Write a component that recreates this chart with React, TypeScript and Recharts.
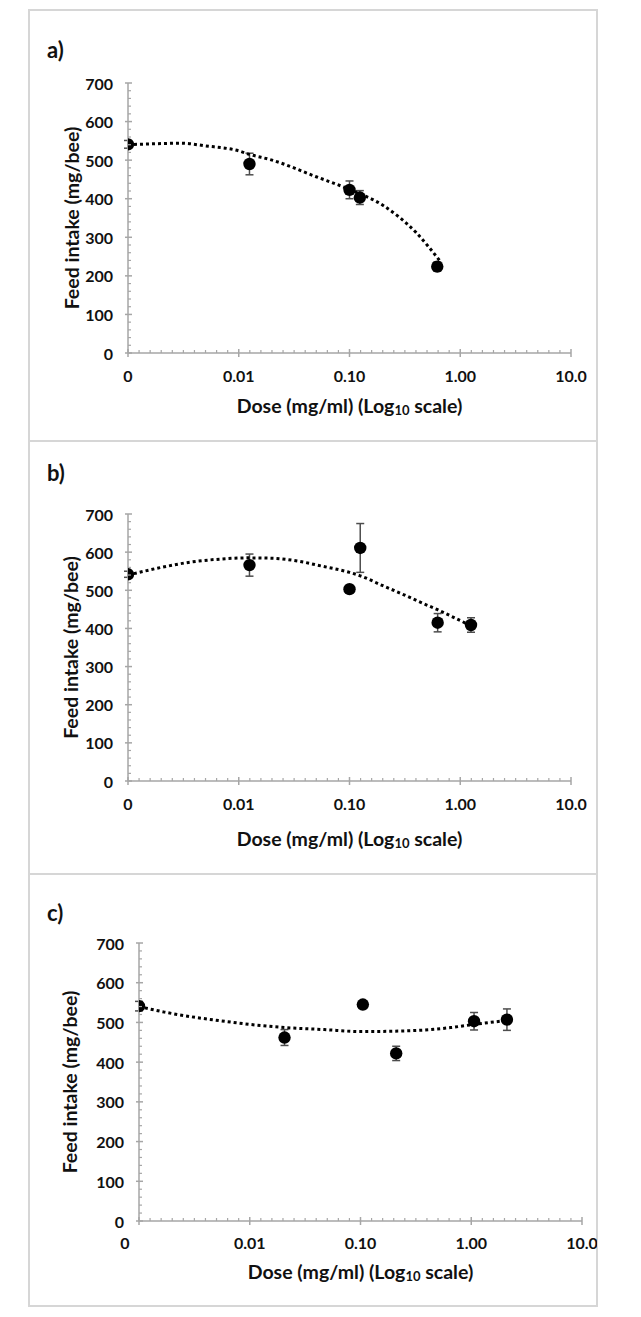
import { ScatterChart, Scatter, XAxis, YAxis, ErrorBar } from 'recharts'

// x axis: log10 dose, Excel-style labels ("0" stands at 0.001)
const X_MAJOR = [0.001, 0.01, 0.1, 1, 10]
const X_LABELS = ['0', '0.01', '0.10', '1.00', '10.0']
const Y_MAJOR = [0, 100, 200, 300, 400, 500, 600, 700]

// panel a
const A_DOSE = [0.001, 0.0125, 0.1, 0.124, 0.62]
const A_MEAN = [541, 490, 423, 403, 224]
const A_ERR = [10, 28, 23, 18, 12]
const A_FIT_X = [0.001, 0.002, 0.003, 0.005, 0.01, 0.0125, 0.02, 0.05, 0.1, 0.2, 0.4, 0.65]
const A_FIT_Y = [540, 543, 544, 537, 524, 515, 500, 457, 424, 383, 312, 240]

// panel b
const B_DOSE = [0.001, 0.0125, 0.1, 0.125, 0.625, 1.25]
const B_MEAN = [542, 566, 503, 611, 415, 409]
const B_ERR = [8, 29, 4, 64, 24, 19]
const B_FIT_X = [0.001, 0.002, 0.0035, 0.007, 0.012, 0.02, 0.035, 0.055, 0.1, 0.125, 0.2, 0.3, 0.45, 0.625, 0.9, 1.25]
const B_FIT_Y = [540, 560, 573, 582, 585, 584, 576, 564, 547, 538, 512, 490, 467, 449, 427, 407]

// panel c
const C_DOSE = [0.001, 0.0206, 0.105, 0.21, 1.06, 2.1]
const C_MEAN = [541, 462, 545, 422, 503, 507]
const C_ERR = [12, 20, 4, 18, 22, 27]
const C_FIT_X = [0.001, 0.0017, 0.003, 0.0055, 0.01, 0.021, 0.047, 0.1, 0.2, 0.43, 0.65, 1.06, 2.1]
const C_FIT_Y = [540, 526, 514, 504, 495, 487, 482, 477, 478, 482, 487, 495, 505]

const AXIS = '#a6a6a6'
const FONT = 'Lato, "Open Sans", sans-serif'
const BOX_L = 29
const BOX_W = 568
const PLOT_W = 443

// minor ticks: 10 even steps per decade on x, every 20 on y
const xTicks = X_MAJOR.flatMap((m, i) =>
  i === X_MAJOR.length - 1 ? [m] : Array.from({ length: 10 }, (_, k) => (k === 0 ? m : m * Math.pow(10, k / 10)))
)
const yTicks = Array.from({ length: 36 }, (_, i) => i * 20)

function XTick(props: any) {
  const { x, y, payload, labelY, firstDx } = props
  const i = X_MAJOR.indexOf(payload.value)
  if (i < 0) return <line x1={x} x2={x} y1={y} y2={y - 3} stroke={AXIS} strokeWidth={1.2} />
  return (
    <g>
      <line x1={x} x2={x} y1={y - 4} y2={y + 4} stroke={AXIS} strokeWidth={1.5} />
      <text x={x + (i === 0 ? firstDx : 0)} y={y + labelY} textAnchor="middle" dominantBaseline="central"
        fontFamily={FONT} fontWeight={700} fontSize={16} fill="#111">{X_LABELS[i]}</text>
    </g>
  )
}

function YTick(props: any) {
  const { x, y, payload } = props
  const v = payload.value
  if (!Y_MAJOR.includes(v)) return <line x1={x} x2={x + 3} y1={y} y2={y} stroke={AXIS} strokeWidth={1.2} />
  return (
    <g>
      <line x1={x - 3} x2={x + 4} y1={y} y2={y} stroke={AXIS} strokeWidth={1.5} />
      <text x={x - 15} y={y} textAnchor="end" dominantBaseline="central"
        fontFamily={FONT} fontWeight={700} fontSize={16} fill="#111">{v}</text>
    </g>
  )
}

type PanelProps = {
  letter: string
  top: number
  height: number
  axisX: number
  y700: number
  y0: number
  tickY: number
  titleY: number
  titleX: number
  letterY: number
  firstDx: number
  dose: number[]
  mean: number[]
  err: number[]
  fitX: number[]
  fitY: number[]
}

function Panel(p: PanelProps) {
  const points = p.dose.map((d, i) => ({ x: d, y: p.mean[i], err: p.err[i] }))
  const fit = p.fitX.map((d, i) => ({ x: d, y: p.fitY[i] }))
  const left = p.axisX - BOX_L
  return (
    <div style={{ position: 'absolute', left: BOX_L, top: p.top, width: BOX_W, height: p.height }}>
      <div style={{ position: 'absolute', left: 18, top: p.letterY - p.top - 14, fontFamily: FONT, fontWeight: 700, fontSize: 22, color: '#111' }}>
        {p.letter}
      </div>
      <ScatterChart width={BOX_W} height={p.height}
        margin={{ top: p.y700 - p.top, left: left - 1, right: BOX_W - left - PLOT_W, bottom: p.height - (p.y0 - p.top) - 1 }}>
        <XAxis type="number" dataKey="x" scale="log" domain={[0.001, 10]} allowDataOverflow ticks={xTicks} interval={0}
          height={1} tickSize={0} tickMargin={0} tickLine={false} axisLine={{ stroke: AXIS, strokeWidth: 1.5 }}
          tick={<XTick labelY={p.tickY} firstDx={p.firstDx} />}
          label={{
            content: (lp: any) => {
              const vb = lp.viewBox || {}
              return (
                <text x={vb.x + vb.width / 2} y={vb.y + p.titleY} textAnchor="middle" dominantBaseline="central"
                  fontFamily={FONT} fontWeight={700} fontSize={19.5} fill="#111">
                  Dose (mg/ml) (Log<tspan fontSize={13} dy={5}>10</tspan><tspan dy={-5}> scale)</tspan>
                </text>
              )
            },
          }} />
        <YAxis type="number" dataKey="y" domain={[0, 700]} allowDataOverflow ticks={yTicks} interval={0}
          width={1} tickSize={0} tickMargin={0} tickLine={false} axisLine={{ stroke: AXIS, strokeWidth: 1.5 }}
          tick={<YTick />}
          label={{
            content: (lp: any) => {
              const vb = lp.viewBox || {}
              const cx = p.titleX - BOX_L
              const cy = vb.y + vb.height / 2
              return (
                <text x={cx} y={cy} transform={`rotate(-90 ${cx} ${cy})`} textAnchor="middle" dominantBaseline="central"
                  fontFamily={FONT} fontWeight={700} fontSize={19.5} fill="#111">
                  Feed intake (mg/bee)
                </text>
              )
            },
          }} />
        <Scatter data={fit} isAnimationActive={false} fill="#000" shape={() => <g />}
          line={{ stroke: '#000', strokeWidth: 3, strokeDasharray: '3 3' }} lineJointType="monotoneX" />
        <Scatter data={points} isAnimationActive={false} fill="#000"
          shape={(sp: any) => <circle cx={sp.cx} cy={sp.cy} r={6.2} fill="#000" />}>
          <ErrorBar dataKey="err" direction="y" width={4} stroke="#4d4d4d" strokeWidth={1.5} isAnimationActive={false} />
        </Scatter>
      </ScatterChart>
    </div>
  )
}

export default function App() {
  const border = '2px solid #d6d6d6'
  return (
    <div style={{ position: 'absolute', left: 0, top: 0, width: 641, height: 1317, background: '#fff' }}>
      <div style={{ position: 'absolute', left: BOX_L - 1, top: 9, width: BOX_W + 2, height: 1298, boxSizing: 'border-box', border }} />
      <div style={{ position: 'absolute', left: BOX_L, top: 440, width: BOX_W, height: 0, borderTop: border }} />
      <div style={{ position: 'absolute', left: BOX_L, top: 873, width: BOX_W, height: 0, borderTop: border }} />
      <Panel letter="a)" top={10} height={431} axisX={128} y700={83} y0={353} tickY={22} titleY={52} titleX={71}
        letterY={50} firstDx={0} dose={A_DOSE} mean={A_MEAN} err={A_ERR} fitX={A_FIT_X} fitY={A_FIT_Y} />
      <Panel letter="b)" top={441} height={433} axisX={128} y700={514} y0={781} tickY={22} titleY={57} titleX={70}
        letterY={473} firstDx={0} dose={B_DOSE} mean={B_MEAN} err={B_ERR} fitX={B_FIT_X} fitY={B_FIT_Y} />
      <Panel letter="c)" top={874} height={432} axisX={139} y700={943} y0={1221} tickY={21} titleY={50} titleX={69}
        letterY={913} firstDx={-14} dose={C_DOSE} mean={C_MEAN} err={C_ERR} fitX={C_FIT_X} fitY={C_FIT_Y} />
    </div>
  )
}
